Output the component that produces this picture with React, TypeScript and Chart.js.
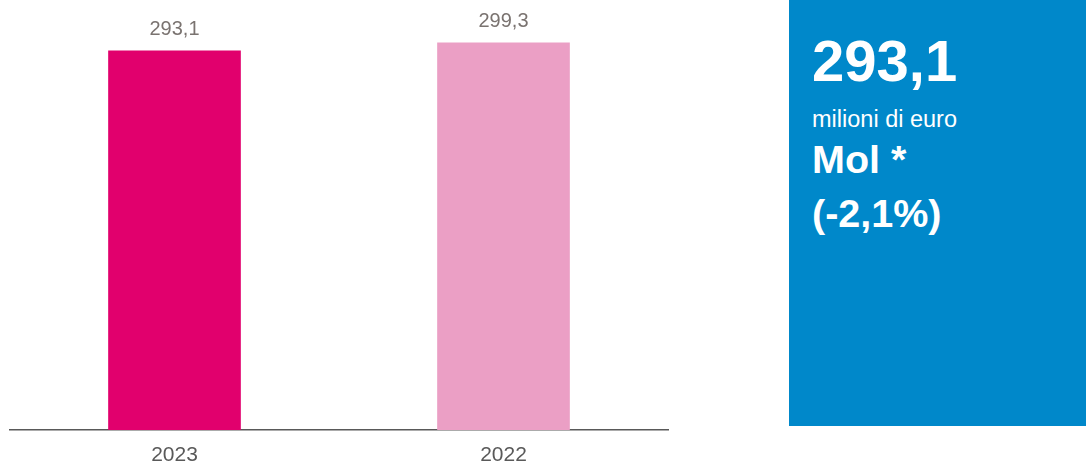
import React, { useEffect, useRef } from "react";
import { Chart, registerables } from "chart.js";

Chart.register(...registerables);

const categories = ["2023", "2022"];
const values = [293.1, 299.3];
const valueLabels = ["293,1", "299,3"];
const barColors = ["#E1006D", "#EB9FC5"];

const FONT = '"Liberation Sans", Arial, sans-serif';

const valueLabelPlugin = {
  id: "valueLabels",
  afterDatasetsDraw(chart: any) {
    const ctx = chart.ctx;
    const meta = chart.getDatasetMeta(0);
    ctx.save();
    ctx.font = `20px ${FONT}`;
    ctx.fillStyle = "#7A7370";
    ctx.textAlign = "center";
    ctx.textBaseline = "alphabetic";
    meta.data.forEach((bar: any, i: number) => {
      ctx.fillText(valueLabels[i], bar.x, bar.y - 16);
    });
    ctx.restore();
  },
};

function BarChart() {
  const ref = useRef<HTMLCanvasElement | null>(null);
  useEffect(() => {
    if (!ref.current) return;
    const chart = new Chart(ref.current, {
      type: "bar",
      data: {
        labels: categories,
        datasets: [
          {
            data: values,
            backgroundColor: barColors,
            barThickness: 132,
          },
        ],
      },
      options: {
        animation: false,
        responsive: false,
        maintainAspectRatio: false,
        layout: { padding: { left: 10, right: 12, top: 0, bottom: 0 } },
        plugins: { legend: { display: false }, tooltip: { enabled: false } },
        scales: {
          x: {
            grid: { display: false, drawTicks: false },
            border: { display: true, color: "#595959", width: 1.5 },
            ticks: {
              color: "#595959",
              font: { family: FONT, size: 21, lineHeight: 1.1 },
              padding: 14,
            },
          },
          y: {
            display: false,
            min: 0,
            max: 332.5,
          },
        },
      },
      plugins: [valueLabelPlugin],
    });
    return () => chart.destroy();
  }, []);
  return <canvas ref={ref} width={680} height={481} style={{ display: "block" }} />;
}

const line = (top: number, size: number, bold: boolean, text: string) => (
  <div
    style={{
      position: "absolute",
      left: 23,
      top,
      fontSize: size,
      lineHeight: `${size}px`,
      fontWeight: bold ? 700 : 400,
      whiteSpace: "nowrap",
    }}
  >
    {text}
  </div>
);

export default function App() {
  return (
    <div
      style={{
        position: "absolute",
        left: 0,
        top: 0,
        width: 1086,
        height: 469,
        background: "#ffffff",
        fontFamily: FONT,
        overflow: "hidden",
      }}
    >
      <div style={{ position: "absolute", left: 0, top: 0, width: 680, height: 481 }}>
        <BarChart />
      </div>
      <div
        style={{
          position: "absolute",
          left: 789,
          top: 0,
          width: 297,
          height: 426,
          background: "#0088CA",
          color: "#ffffff",
        }}
      >
        {line(32, 58, true, "293,1")}
        {line(107.5, 23.5, false, "milioni di euro")}
        {line(140, 39.5, true, "Mol *")}
        {line(193.5, 39.5, true, "(-2,1%)")}
      </div>
    </div>
  );
}
